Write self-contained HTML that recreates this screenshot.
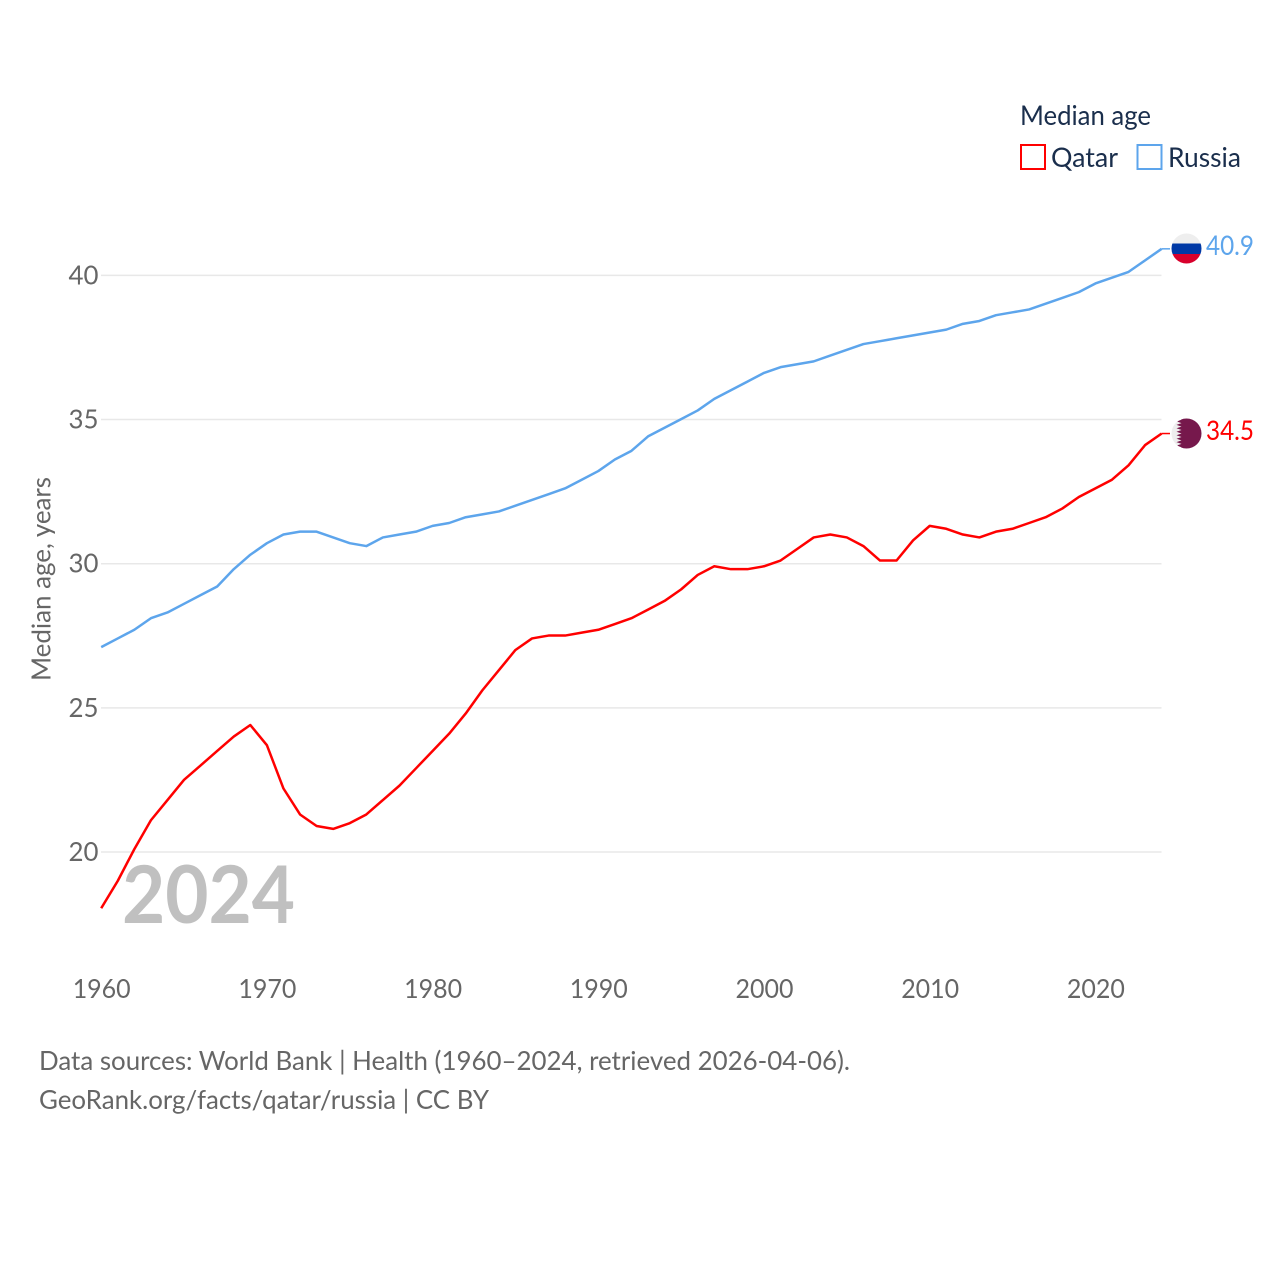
<!DOCTYPE html>
<html lang="en">
<head>
<meta charset="utf-8">
<title>Median age: Qatar and Russia</title>
<style>
html,body{margin:0;padding:0;background:#fff;width:1280px;height:1280px;overflow:hidden}
svg{display:block}
text{font-family:"Lato","Carlito","Liberation Sans",sans-serif}
</style>
</head>
<body>
<svg id="chart" width="1280" height="1280" viewBox="0 0 1280 1280" xmlns="http://www.w3.org/2000/svg">
  <rect width="1280" height="1280" fill="#fff"/>
  <g id="grid"></g>
  <g id="yticks" font-size="26" fill="#666"></g>
  <g id="xticks" font-size="26" fill="#666"></g>
  <text transform="translate(50.500,579) rotate(-90)" text-anchor="middle" font-size="26" fill="#666" textLength="204" lengthAdjust="spacingAndGlyphs">Median age, years</text>
  <text x="122" y="923" font-size="80" font-weight="700" fill="#c0c0c0" textLength="173" lengthAdjust="spacingAndGlyphs">2024</text>
  <g id="series"></g>

  <g>
    <text x="1020" y="125" font-size="27" fill="#1a2e4c" textLength="131" lengthAdjust="spacingAndGlyphs">Median age</text>
    <g>
      <rect x="1021" y="145" width="24" height="24" fill="#fff" stroke="#ff0000" stroke-width="2"/>
      <text x="1051" y="167" font-size="27" fill="#1a2e4c" textLength="67" lengthAdjust="spacingAndGlyphs">Qatar</text>
    </g>
    <g>
      <rect x="1137.500" y="145" width="24" height="24" fill="#fff" stroke="#5da5ec" stroke-width="2"/>
      <text x="1168" y="167" font-size="27" fill="#1a2e4c" textLength="73" lengthAdjust="spacingAndGlyphs">Russia</text>
    </g>
  </g>

  <defs>
    <clipPath id="flag-clip-ru"><circle cx="1186.500" cy="248.500" r="15"/></clipPath>
    <clipPath id="flag-clip-qa"><circle cx="1186.500" cy="433.500" r="15"/></clipPath>
  </defs>
  <g clip-path="url(#flag-clip-ru)">
    <rect x="1171" y="233" width="31" height="10.500" fill="#eeeeee"/>
    <rect x="1171" y="243.500" width="31" height="10.500" fill="#0039a6"/>
    <rect x="1171" y="254" width="31" height="11" fill="#d8002c"/>
  </g>
  <g clip-path="url(#flag-clip-qa)">
    <rect x="1171" y="418" width="31" height="31" fill="#eeeeee"/>
    <polygon fill="#76184c" points="1202,418 1176.500,418 1181.500,419.700 1176.500,421.400 1181.500,423.100 1176.500,424.900 1181.500,426.600 1176.500,428.300 1181.500,430 1176.500,431.800 1181.500,433.500 1176.500,435.200 1181.500,437 1176.500,438.700 1181.500,440.400 1176.500,442.100 1181.500,443.900 1176.500,445.600 1181.500,447.300 1176.500,449 1202,449"/>
  </g>
  <text x="1206" y="255" font-size="27" fill="#5da5ec" textLength="48" lengthAdjust="spacingAndGlyphs">40.9</text>
  <text x="1206" y="440" font-size="27" fill="#ff0000" textLength="48" lengthAdjust="spacingAndGlyphs">34.5</text>

  <g font-size="26" fill="#666">
    <text x="39" y="1070" textLength="811" lengthAdjust="spacingAndGlyphs">Data sources: World Bank | Health (1960–2024, retrieved 2026-04-06).</text>
    <text x="39" y="1109" textLength="450" lengthAdjust="spacingAndGlyphs">GeoRank.org/facts/qatar/russia | CC BY</text>
  </g>
</svg>
<script>
const startYear = 1960;
const xTickYears = [1960, 1970, 1980, 1990, 2000, 2010, 2020];
const yTickValues = [20, 25, 30, 35, 40];
const russiaValues = [27.1, 27.4, 27.7, 28.1, 28.3, 28.6, 28.9, 29.2, 29.8, 30.3, 30.7, 31.0, 31.1, 31.1, 30.9, 30.7, 30.6, 30.9, 31.0, 31.1, 31.3, 31.4, 31.6, 31.7, 31.8, 32.0, 32.2, 32.4, 32.6, 32.9, 33.2, 33.6, 33.9, 34.4, 34.7, 35.0, 35.3, 35.7, 36.0, 36.3, 36.6, 36.8, 36.9, 37.0, 37.2, 37.4, 37.6, 37.7, 37.8, 37.9, 38.0, 38.1, 38.3, 38.4, 38.6, 38.7, 38.8, 39.0, 39.2, 39.4, 39.7, 39.9, 40.1, 40.5, 40.9];
const qatarValues = [18.05, 19.0, 20.1, 21.1, 21.8, 22.5, 23.0, 23.5, 24.0, 24.4, 23.7, 22.2, 21.3, 20.9, 20.8, 21.0, 21.3, 21.8, 22.3, 22.9, 23.5, 24.1, 24.8, 25.6, 26.3, 27.0, 27.4, 27.5, 27.5, 27.6, 27.7, 27.9, 28.1, 28.4, 28.7, 29.1, 29.6, 29.9, 29.8, 29.8, 29.9, 30.1, 30.5, 30.9, 31.0, 30.9, 30.6, 30.1, 30.1, 30.8, 31.3, 31.2, 31.0, 30.9, 31.1, 31.2, 31.4, 31.6, 31.9, 32.3, 32.6, 32.9, 33.4, 34.1, 34.5];

const NS = 'http://www.w3.org/2000/svg';
const xScale = function (year) { return 101.2 + (year - 1960) * 16.57; };
const yScale = function (value) { return 852 - (value - 20) * 28.86; };
const CONNECTOR_END_X = 1170;

function make(tag, parent) {
  const el = document.createElementNS(NS, tag);
  parent.appendChild(el);
  return el;
}

const gridGroup = document.getElementById('grid');
const yGroup = document.getElementById('yticks');
const xGroup = document.getElementById('xticks');
const seriesGroup = document.getElementById('series');

yTickValues.forEach(function (value) {
  const line = make('line', gridGroup);
  
  
  line.setAttribute('x1', 101);
  line.setAttribute('x2', 1161.5);
  line.setAttribute('y1', 852 - (value - 20) * 28.83);
  line.setAttribute('y2', 852 - (value - 20) * 28.83);
  line.setAttribute('stroke', '#e8e8e8');
  line.setAttribute('stroke-width', 1.5);

  const label = make('text', yGroup);
  
  
  label.setAttribute('x', 98.5);
  label.setAttribute('y', 852 - (value - 20) * 28.83 + 9);
  label.setAttribute('text-anchor', 'end');
  label.setAttribute('textLength', 30);
  label.setAttribute('lengthAdjust', 'spacingAndGlyphs');
  label.textContent = value;
});

xTickYears.forEach(function (year) {
  const label = make('text', xGroup);
  
  
  label.setAttribute('x', xScale(year) + 0.5);
  label.setAttribute('y', 998);
  label.setAttribute('text-anchor', 'middle');
  label.setAttribute('textLength', 58);
  label.setAttribute('lengthAdjust', 'spacingAndGlyphs');
  label.textContent = year;
});

function linePath(values) {
  const points = values.map(function (value, i) {
    return xScale(startYear + i).toFixed(2) + ',' + yScale(value).toFixed(2);
  });
  return 'M' + points.join('L');
}

function connectorPath(values) {
  const last = values.length - 1;
  return 'M' + xScale(startYear + last).toFixed(2) + ',' + yScale(values[last]).toFixed(2) +
    'L' + CONNECTOR_END_X + ',' + yScale(values[last]).toFixed(2);
}

const russiaConnector = make('path', seriesGroup);


russiaConnector.setAttribute('d', connectorPath(russiaValues));
russiaConnector.setAttribute('fill', 'none');
russiaConnector.setAttribute('stroke', '#5da5ec');
russiaConnector.setAttribute('stroke-width', 1.5);

const russiaLine = make('path', seriesGroup);


russiaLine.setAttribute('d', linePath(russiaValues));
russiaLine.setAttribute('fill', 'none');
russiaLine.setAttribute('stroke', '#5da5ec');
russiaLine.setAttribute('stroke-width', 2.5);
russiaLine.setAttribute('stroke-linejoin', 'round');

const qatarConnector = make('path', seriesGroup);


qatarConnector.setAttribute('d', connectorPath(qatarValues));
qatarConnector.setAttribute('fill', 'none');
qatarConnector.setAttribute('stroke', '#ff0000');
qatarConnector.setAttribute('stroke-width', 1.5);

const qatarLine = make('path', seriesGroup);


qatarLine.setAttribute('d', linePath(qatarValues));
qatarLine.setAttribute('fill', 'none');
qatarLine.setAttribute('stroke', '#ff0000');
qatarLine.setAttribute('stroke-width', 2.5);
qatarLine.setAttribute('stroke-linejoin', 'round');
</script>
</body>
</html>
